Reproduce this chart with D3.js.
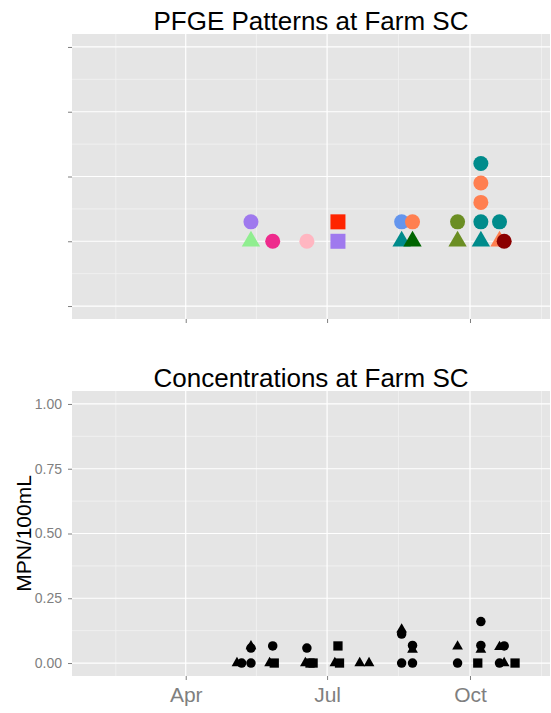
<!DOCTYPE html>
<html>
<head>
<meta charset="utf-8">
<script src="https://cdn.jsdelivr.net/npm/d3@7"></script>
<style>
  body { margin: 0; background: #fff; }
  text { font-family: "Liberation Sans", Arial, Helvetica, sans-serif; }
</style>
</head>
<body>
<svg id="chart" width="551" height="713"></svg>
<script>
// ---- Data ---------------------------------------------------------------

// PFGE isolates at Farm SC: sampling date, stack level, pattern, isolate group
const pfgeDates = [
  "2013-05-13", "2013-05-13", "2013-05-27", "2013-06-18", "2013-07-08",
  "2013-07-08", "2013-08-18", "2013-08-18", "2013-08-25", "2013-08-25",
  "2013-09-23", "2013-09-23", "2013-10-08", "2013-10-08", "2013-10-08",
  "2013-10-08", "2013-10-08", "2013-10-20", "2013-10-20", "2013-10-23"
];
const pfgeLevels = [1.3, 1.0, 1.0, 1.0, 1.3, 1.0, 1.3, 1.0, 1.3, 1.0,
                    1.3, 1.0, 2.2, 1.9, 1.6, 1.3, 1.0, 1.3, 1.0, 1.0];
const pfgePatterns = ["P01", "P02", "P03", "P04", "P05", "P01", "P06", "P07", "P08", "P09",
                      "P10", "P10", "P07", "P08", "P08", "P07", "P07", "P07", "P08", "P11"];
const pfgeGroups = ["A", "B", "A", "A", "C", "C", "A", "B", "A", "B",
                    "A", "B", "A", "A", "A", "A", "B", "A", "B", "A"];

// Pattern list and its colour palette
const patternNames = ["P01", "P02", "P03", "P04", "P05", "P06", "P07", "P08", "P09", "P10", "P11"];
const patternPalette = ["#9F79EE", "#90EE90", "#EE2A8C", "#FFB6C1", "#FF2400", "#6495ED",
                        "#008B8B", "#FF7F50", "#006400", "#6B8E23", "#8B0000"];

// Concentrations at Farm SC (MPN/100mL)
const concDates = [
  "2013-05-04", "2013-05-07", "2013-05-13", "2013-05-13", "2013-05-13",
  "2013-05-25", "2013-05-28", "2013-05-27",
  "2013-06-17", "2013-06-20", "2013-06-22", "2013-06-18",
  "2013-07-06", "2013-07-09", "2013-07-08", "2013-07-22", "2013-07-28",
  "2013-08-18", "2013-08-25", "2013-08-18", "2013-08-18", "2013-08-25", "2013-08-25",
  "2013-09-23", "2013-09-23",
  "2013-10-06", "2013-10-08", "2013-10-08", "2013-10-08",
  "2013-10-20", "2013-10-23", "2013-10-20", "2013-10-23", "2013-10-30"
];
const concValues = [
  0, 0, 0, 0.065, 0.058,
  0, 0, 0.066,
  0, 0, 0, 0.058,
  0, 0, 0.066, 0, 0,
  0, 0, 0.130, 0.112, 0.052, 0.068,
  0, 0.064,
  0, 0.160, 0.052, 0.068,
  0.062, 0.066, 0, 0, 0
];
const concGroups = [
  "B", "A", "A", "B", "A",
  "B", "C", "A",
  "B", "C", "C", "A",
  "B", "C", "C", "B", "B",
  "A", "A", "B", "A", "B", "A",
  "A", "B",
  "C", "A", "B", "A",
  "B", "A", "A", "B", "C"
];

const dateLimits = ["2013-01-17T19:00:00Z", "2013-11-21T12:00:00Z"];
const monthTickLabels = ["Apr", "Jul", "Oct"];
const patternLevelTicks = [0, 1, 2, 3, 4];
const concTicks = [0, 0.25, 0.5, 0.75, 1];
const concTickLabels = ["0.00", "0.25", "0.50", "0.75", "1.00"];

// ---- Layout -------------------------------------------------------------

const svg = d3.select("#chart");
const left = 72, right = 550;
const topPanel = { top: 34, bottom: 319 };
const botPanel = { top: 391, bottom: 676 };

const parse = d => new Date(d.length > 10 ? d : d + "T00:00:00Z");

const x = d3.scaleUtc().domain(dateLimits.map(parse)).range([left, right]);
const yPat = d3.scaleLinear().domain([-0.2, 4.2]).range([topPanel.bottom, topPanel.top]);
const yConc = d3.scaleLinear().domain([-0.05, 1.05]).range([botPanel.bottom, botPanel.top]);

const colour = d3.scaleOrdinal().domain(patternNames).range(patternPalette);
const symbolType = d3.scaleOrdinal().domain(["A", "B", "C"])
  .range([d3.symbolCircle, d3.symbolTriangle, d3.symbolSquare]);

// Quarterly month ticks and the midpoints between them
const inDomain = d => d >= x.domain()[0] && d <= x.domain()[1];
const quarterTicks = d3.utcMonth.every(3).range(parse("2013-01-01"), parse("2014-01-02"));
const majorX = quarterTicks.filter(inDomain);
const minorX = d3.pairs(quarterTicks).map(([a, b]) => new Date((+a + +b) / 2)).filter(inDomain);

const midpoints = values => d3.pairs(values).map(([a, b]) => (a + b) / 2);

function drawPanel(y, panel, majorY, minorY) {
  const g = svg.append("g");
  g.append("rect")
    .attr("x", left).attr("y", panel.top)
    .attr("width", right - left).attr("height", panel.bottom - panel.top)
    .attr("fill", "#E5E5E5");
  // minor grid
  g.selectAll(null).data(minorY).join("line")
    .attr("x1", left).attr("x2", right)
    .attr("y1", d => y(d)).attr("y2", d => y(d))
    .attr("stroke", "#F2F2F2").attr("stroke-width", 0.8);
  g.selectAll(null).data(minorX).join("line")
    .attr("x1", d => x(d)).attr("x2", d => x(d))
    .attr("y1", panel.top).attr("y2", panel.bottom)
    .attr("stroke", "#F2F2F2").attr("stroke-width", 0.8);
  // major grid
  g.selectAll(null).data(majorY).join("line")
    .attr("x1", left).attr("x2", right)
    .attr("y1", d => y(d)).attr("y2", d => y(d))
    .attr("stroke", "#FFFFFF").attr("stroke-width", 1.2);
  g.selectAll(null).data(majorX).join("line")
    .attr("x1", d => x(d)).attr("x2", d => x(d))
    .attr("y1", panel.top).attr("y2", panel.bottom)
    .attr("stroke", "#FFFFFF").attr("stroke-width", 1.2);
}

drawPanel(yPat, topPanel, patternLevelTicks, midpoints(patternLevelTicks));
drawPanel(yConc, botPanel, concTicks, midpoints(concTicks));

function styleAxis(g) {
  g.select(".domain").remove();
  g.selectAll(".tick line").attr("stroke", "#7F7F7F").attr("stroke-width", 1);
  g.selectAll(".tick text").attr("fill", "#7F7F7F");
}

// Axes: top panel carries ticks only
svg.append("g").attr("transform", `translate(${left},0)`)
  .call(d3.axisLeft(yPat).tickValues(patternLevelTicks).tickSize(4).tickFormat(""))
  .call(styleAxis);
svg.append("g").attr("transform", `translate(0,${topPanel.bottom})`)
  .call(d3.axisBottom(x).tickValues(majorX).tickSize(4).tickFormat(""))
  .call(styleAxis);

svg.append("g").attr("transform", `translate(${left},0)`)
  .call(d3.axisLeft(yConc).tickValues(concTicks).tickSize(4).tickPadding(6)
    .tickFormat((d, i) => concTickLabels[i]))
  .call(styleAxis)
  .call(g => g.selectAll(".tick text").style("font-size", "14px").style("font-family", null));

svg.append("g").attr("transform", `translate(0,${botPanel.bottom})`)
  .call(d3.axisBottom(x).tickValues(majorX).tickSize(4).tickPadding(7)
    .tickFormat((d, i) => monthTickLabels[i]))
  .call(styleAxis)
  .call(g => g.selectAll(".tick text").style("font-size", "21px").style("font-family", null));

// Titles
svg.append("text")
  .attr("x", (left + right) / 2).attr("y", 30)
  .attr("text-anchor", "middle").attr("font-size", 26).attr("fill", "#000")
  .text("PFGE Patterns at Farm SC");
svg.append("text")
  .attr("x", (left + right) / 2).attr("y", 387)
  .attr("text-anchor", "middle").attr("font-size", 26).attr("fill", "#000")
  .text("Concentrations at Farm SC");
svg.append("text")
  .attr("transform", `translate(31,${(botPanel.top + botPanel.bottom) / 2}) rotate(-90)`)
  .attr("text-anchor", "middle").attr("font-size", 21).attr("fill", "#000")
  .text("MPN/100mL");

// ---- Marks --------------------------------------------------------------

const bigSize = { A: 177, B: 146, C: 225 };
const smallSize = { A: 71, B: 50, C: 86 };

const pfge = pfgeDates.map((d, i) => ({
  date: parse(d), level: pfgeLevels[i], pattern: pfgePatterns[i], group: pfgeGroups[i]
}));
svg.append("g").selectAll("path").data(pfge).join("path")
  .attr("transform", d => `translate(${x(d.date)},${yPat(d.level)})`)
  .attr("d", d => d3.symbol(symbolType(d.group), bigSize[d.group])())
  .attr("fill", d => colour(d.pattern));

const conc = concDates.map((d, i) => ({
  date: parse(d), value: concValues[i], group: concGroups[i]
}));
svg.append("g").selectAll("path").data(conc).join("path")
  .attr("transform", d => `translate(${x(d.date)},${yConc(d.value)})`)
  .attr("d", d => d3.symbol(symbolType(d.group), smallSize[d.group])())
  .attr("fill", "#000");
</script>
</body>
</html>
